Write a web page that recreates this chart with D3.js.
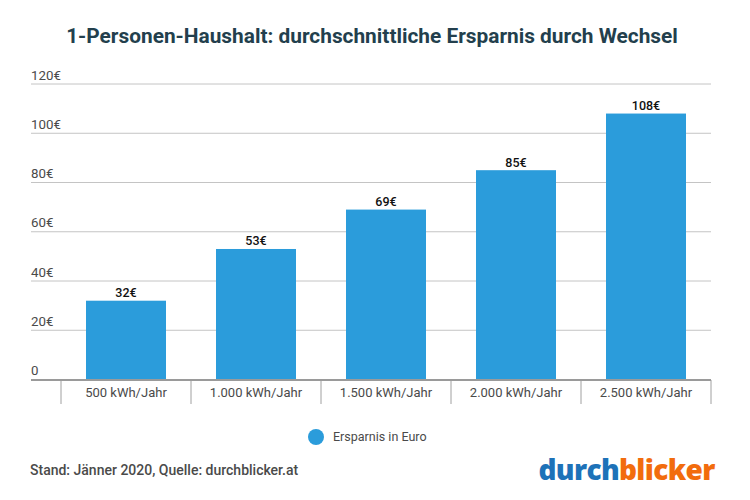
<!DOCTYPE html>
<html>
<head>
<meta charset="utf-8">
<script src="https://cdn.jsdelivr.net/npm/d3@7"></script>
<style>
    html, body { margin: 0; padding: 0; background: #fff; }
    svg { display: block; font-family: Roboto, sans-serif; }
</style>
</head>
<body>
<svg id="chart" width="750" height="500"></svg>
<script>
// ===== Ersparnis bar chart =====
const data = [
    { label: '500 kWh/Jahr', value: 32 },
    { label: '1.000 kWh/Jahr', value: 53 },
    { label: '1.500 kWh/Jahr', value: 69 },
    { label: '2.000 kWh/Jahr', value: 85 },
    { label: '2.500 kWh/Jahr', value: 108 }
];

const svg = d3.select('#chart');
const blue = '#2b9cdb';

const x = d3.scaleBand()
    .domain(data.map(d => d.label))
    .range([61, 711])
    .paddingInner(50 / 130)
    .paddingOuter(25 / 130);

const y = d3.scaleLinear().domain([0, 120]).range([379.5, 84]);

// Title
svg.append('text')
    .attr('x', 372).attr('y', 42.5)
    .attr('text-anchor', 'middle')
    .attr('font-size', 20.85).attr('font-weight', 700)
    .attr('fill', '#233f4d')
    .text('1-Personen-Haushalt: durchschnittliche Ersparnis durch Wechsel');

// Grid lines and y labels
const yTicks = y.ticks(6);
svg.append('g').selectAll('line')
    .data(yTicks.filter(d => d > 0))
    .join('line')
    .attr('x1', 31).attr('x2', 711)
    .attr('y1', d => y(d)).attr('y2', d => y(d))
    .attr('stroke', '#c4c4c4').attr('stroke-width', 1);

svg.append('g').selectAll('text')
    .data(yTicks)
    .join('text')
    .attr('x', 31)
    .attr('y', d => y(d) - 4.5)
    .attr('font-size', 13.3).attr('fill', '#4a4a4a')
    .text(d => d === 0 ? '0' : d + '€');

// Bars
svg.append('g').selectAll('rect')
    .data(data)
    .join('rect')
    .attr('x', d => x(d.label))
    .attr('y', d => y(d.value))
    .attr('width', x.bandwidth())
    .attr('height', d => y(0) - y(d.value))
    .attr('fill', blue);

// Value labels
svg.append('g').selectAll('text')
    .data(data)
    .join('text')
    .attr('x', d => x(d.label) + x.bandwidth() / 2)
    .attr('y', d => y(d.value) - 3.5)
    .attr('text-anchor', 'middle')
    .attr('font-size', 12.5).attr('font-weight', 500)
    .attr('fill', '#111')
    .text(d => d.value + '€');

// X axis: separators sit on the band edges
const edges = data.map(d => x(d.label) - x.step() * 25 / 130);
edges.push(711);
svg.append('g').selectAll('line')
    .data(edges)
    .join('line')
    .attr('x1', d => d).attr('x2', d => d)
    .attr('y1', 380).attr('y2', 404)
    .attr('stroke', '#a0a0a0').attr('stroke-width', 1);

svg.append('line')
    .attr('x1', 31).attr('x2', 711)
    .attr('y1', 380).attr('y2', 380)
    .attr('stroke', '#9a9a9a').attr('stroke-width', 2);

svg.append('g').selectAll('text')
    .data(data)
    .join('text')
    .attr('x', d => x(d.label) + x.bandwidth() / 2)
    .attr('y', 396.5)
    .attr('text-anchor', 'middle')
    .attr('font-size', 13).attr('fill', '#4a4a4a')
    .text(d => d.label);

// Legend
svg.append('circle')
    .attr('cx', 316).attr('cy', 437).attr('r', 8)
    .attr('fill', blue);
svg.append('text')
    .attr('x', 333).attr('y', 441)
    .attr('font-size', 12.5).attr('fill', '#4a4a4a')
    .text('Ersparnis in Euro');

// Footer
svg.append('text')
    .attr('x', 30).attr('y', 475)
    .attr('font-size', 14).attr('font-weight', 500)
    .attr('fill', '#4a4a4a')
    .text('Stand: Jänner 2020, Quelle: durchblicker.at');

// Logo
const logo = svg.append('text')
    .attr('x', 538.5).attr('y', 480)
    .attr('font-family', "'Open Sans', sans-serif")
    .attr('font-size', 28).attr('font-weight', 800)
    .attr('letter-spacing', -0.65);
logo.append('tspan').attr('fill', '#1d72b8').text('durch');
logo.append('tspan').attr('fill', '#f26c0d').text('blicker');
</script>
</body>
</html>
